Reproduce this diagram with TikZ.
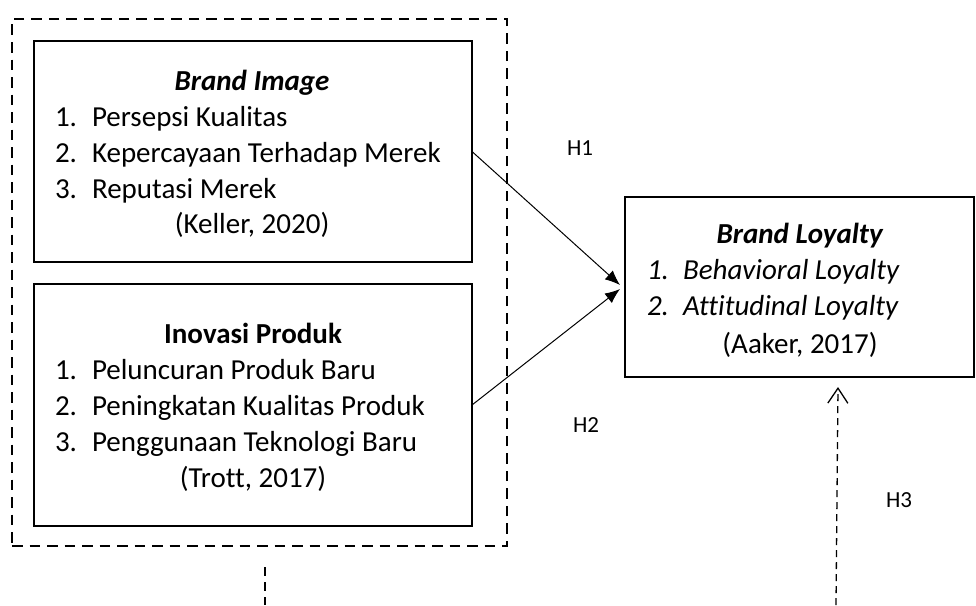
\documentclass[tikz,border=0pt]{standalone}
\usepackage{fontspec}
\setmainfont{Carlito}[Ligatures=CommonOff]
\usetikzlibrary{arrows.meta}
\begin{document}
\begin{tikzpicture}[x=1pt,y=-1pt,
  box/.style={draw,line width=2.3pt,inner sep=0pt,outer sep=0pt},
  txt/.style={inner sep=0pt,outer sep=0pt,font=\fontsize{29}{36}\selectfont},
  item/.style={txt,anchor=base west},
  ctr/.style={txt,anchor=base},
  lab/.style={inner sep=0pt,outer sep=0pt,font=\fontsize{23}{28}\selectfont,anchor=base west},
  conn/.style={line width=1pt,-{Latex[length=15pt,width=12pt]}},
  dconn/.style={line width=1.3pt,dash pattern=on 7pt off 5pt,-{Straight Barb[length=15pt,width=20pt]}},
  ]
\useasboundingbox (0,0) rectangle (976,605);
% outer dashed frame
\node[draw,dash pattern=on 10.5pt off 7pt,line width=2.3pt,minimum width=495pt,minimum height=527pt,inner sep=0pt] (outer) at (259.5,282.5) {};
% boxes
\node[box,minimum width=438pt,minimum height=221pt] (bi) at (253,151.5) {};
\node[box,minimum width=438pt,minimum height=242pt] (ip) at (253,405) {};
\node[box,minimum width=349pt,minimum height=180pt] (bl) at (799.5,287) {};
% Brand Image texts
\node[ctr] (bit) at (252,90) {\textbf{\textit{Brand Image}}};
\node[item] (bin1) at (55,126) {1.};
\node[item] (bi1) at (92,126) {Persepsi Kualitas};
\node[item] (bin2) at (55,162) {2.};
\node[item] (bi2) at (92,162) {Kepercayaan Terhadap Merek};
\node[item] (bin3) at (55,198) {3.};
\node[item] (bi3) at (92,198) {Reputasi Merek};
\node[ctr] (bic) at (252,233) {(Keller, 2020)};
% Inovasi Produk texts
\node[ctr] (ipt) at (253,343) {\textbf{Inovasi Produk}};
\node[item] (ipn1) at (55,379) {1.};
\node[item] (ip1) at (92,379) {Peluncuran Produk Baru};
\node[item] (ipn2) at (55,415) {2.};
\node[item] (ip2) at (92,415) {Peningkatan Kualitas Produk};
\node[item] (ipn3) at (55,451) {3.};
\node[item] (ip3) at (92,451) {Penggunaan Teknologi Baru};
\node[ctr] (ipc) at (253,487) {(Trott, 2017)};
% Brand Loyalty texts
\node[ctr] (blt) at (800,243) {\textbf{\textit{Brand Loyalty}}};
\node[item] (bln1) at (647,279) {\textit{1.}};
\node[item] (bl1) at (683,279) {\textit{Behavioral Loyalty}};
\node[item] (bln2) at (647,315) {\textit{2.}};
\node[item] (bl2) at (683,315) {\textit{Attitudinal Loyalty}};
\node[ctr] (blc) at (800,353) {(Aaker, 2017)};
% connectors
\coordinate (t1) at (620,285);
\coordinate (t2) at (620,289);
\draw[conn] (bi.east) -- (t1);
\draw[conn] (ip.east) -- (t2);
\coordinate (h3s) at (836,605);
\coordinate (h3e) at (838,387);
\draw[dconn] (h3s) -- (h3e);
\coordinate (ds) at (265,567);
\coordinate (de) at (265,605);
\draw[line width=1.5pt,dash pattern=on 9pt off 6pt] (ds) -- (de);
% labels
\node[lab] (h1) at (567,155) {H1};
\node[lab] (h2) at (573,432) {H2};
\node[lab] (h3) at (886,507) {H3};
\end{tikzpicture}
\end{document}
